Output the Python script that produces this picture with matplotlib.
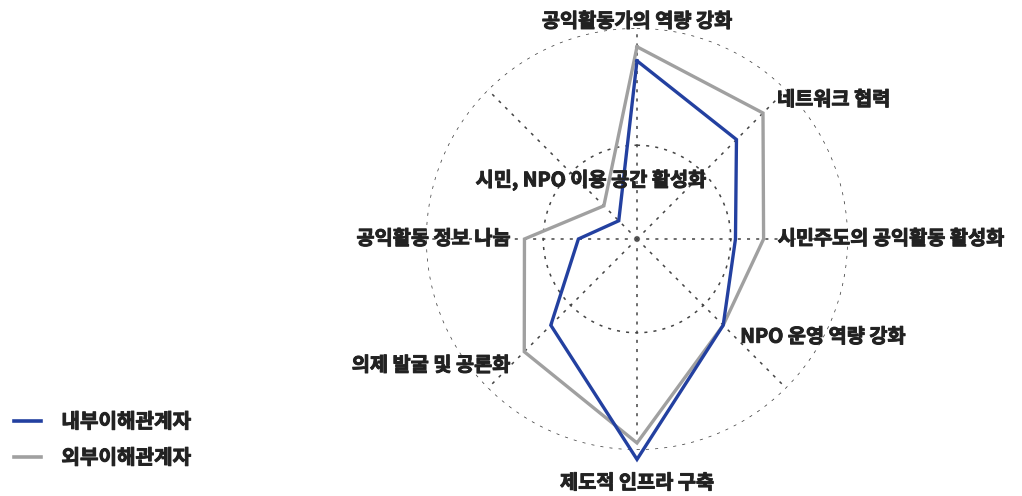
import numpy as np
import matplotlib
matplotlib.use('Agg')
import matplotlib.pyplot as plt
import matplotlib.patheffects as pe

plt.rcParams['font.family'] = ['Noto Sans CJK KR', 'DejaVu Sans']

categories = ['공익활동가의 역량 강화', '네트워크 협력', '시민주도의 공익활동 활성화',
              'NPO 운영 역량 강화', '제도적 인프라 구축', '의제 발굴 및 공론화',
              '공익활동 정보 나눔', '시민, NPO 이용 공간 활성화']
internal = [3.86, 3.70, 3.52, 3.62, 4.04, 3.62, 3.35, 3.21]
external = [3.92, 3.86, 3.64, 3.62, 3.97, 3.78, 3.58, 3.30]
series_names = ['내부이해관계자', '외부이해관계자']
ring_values = [3.5, 4.0]
r_min = 3.1

blue = '#2340a0'
grey = '#a0a0a0'
txt = '#222222'
thick = [pe.withStroke(linewidth=0.7, foreground=txt)]

fig = plt.figure(figsize=(10.22, 4.96), dpi=100)
ax = fig.add_axes([426 / 1022, 46 / 496, 422 / 1022, 422 / 496], projection='polar')
ax.set_theta_zero_location('N')
ax.set_theta_direction(-1)
ax.set_ylim(r_min, ring_values[-1])
ax.grid(False)
ax.set_xticks([])
ax.set_yticks([])
ax.spines['polar'].set_visible(False)
ax.patch.set_alpha(0)

n = len(categories)
angles = np.arange(n) * 2 * np.pi / n

# dotted grid
dots = (0, (2.0, 4.0))
full = np.linspace(0, 2 * np.pi, 400)
for rv in ring_values:
    ax.plot(full, [rv] * len(full), color='#444444', lw=1.1, ls=dots, zorder=1)
for a in angles:
    ax.plot([a, a], [r_min, ring_values[-1]], color='#444444', lw=1.1, ls=dots, zorder=1)

a_closed = np.append(angles, angles[0])
ax.plot(a_closed, external + external[:1], color=grey, lw=2.4, zorder=3, clip_on=False,
        solid_joinstyle='miter')
ax.plot(a_closed, internal + internal[:1], color=blue, lw=2.4, zorder=4, clip_on=False,
        solid_joinstyle='miter')

# category labels, offset in pixels from the outer point of each axis
offsets = [(0, 25, 'center', 'center'), (14, 13, 'left', 'center'), (14, 0, 'left', 'center'),
           (17, -12, 'left', 'center'), (0, -24, 'center', 'center'), (-14, -14, 'right', 'center'),
           (-14, 0, 'right', 'center'), (-13, 26, 'center', 'center')]
for i, lab in enumerate(categories):
    dx, dy, ha, va = offsets[i]
    ax.annotate(lab, xy=(angles[i], max(internal[i], external[i])), xytext=(dx, dy),
                textcoords='offset pixels', ha=ha, va=va, fontsize=14.2, fontweight='black',
                color=txt, annotation_clip=False, zorder=6, path_effects=thick)

handles = [plt.Line2D([], [], color=blue, lw=2.6), plt.Line2D([], [], color=grey, lw=2.6)]
leg = fig.legend(handles, series_names, loc='lower left', bbox_to_anchor=(0.0, 0.028),
                 frameon=False, prop={'weight': 'black', 'size': 14.5},
                 handlelength=1.35, handletextpad=1.0, labelspacing=0.75, borderaxespad=0.3)
for t in leg.get_texts():
    t.set_color(txt)
    t.set_path_effects(thick)

fig.savefig('out.png', dpi=100)
